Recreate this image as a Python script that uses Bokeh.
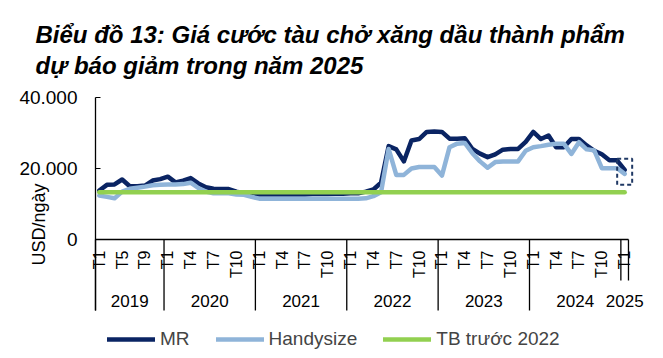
from math import pi
from bokeh.plotting import figure
from bokeh.models import Range1d, Label, Legend, LegendItem, FixedTicker, ColumnDataSource
from bokeh.core.properties import value
from bokeh.embed import file_html
from bokeh.resources import INLINE

# ---------------- data ----------------
years = ["2019", "2020", "2021", "2022", "2023", "2024", "2025"]
months_2019 = ["T1", "T2", "T4", "T5", "T6", "T8", "T9", "T10", "T12"]
months_full = ["T1", "T2", "T3", "T4", "T5", "T6", "T7", "T8", "T9", "T10", "T11", "T12"]
months_2025 = ["T1"]

mr = [
    13800, 15400, 15500, 16900, 15000, 15000, 15200, 16600, 17000,
    17700, 16100, 16600, 17300, 15800, 14700, 14300, 14200, 14200, 13500, 13000, 12800,
    12700, 12700, 12700, 12700, 12700, 12700, 12700, 12800, 12800, 12800, 12900, 12900,
    13000, 13000, 13500, 14100, 16000, 26300, 25400, 22000, 27900, 28300, 30300, 30400,
    30300, 28400, 28400, 28500, 25500, 24200, 23200, 24000, 25300, 25500, 25500, 27500,
    30300, 28300, 29300, 26000, 26000, 28300, 28300, 26500, 25000, 24000, 22300, 22300,
    19600,
]
handysize = [
    12400, 12000, 11600, 13500, 14300, 14600, 14900, 15300, 15400,
    15500, 15500, 15600, 16000, 14500, 13500, 13000, 13000, 13000, 12700, 12600, 12000,
    11500, 11500, 11500, 11500, 11500, 11500, 11500, 11500, 11500, 11500, 11500, 11500,
    11500, 11500, 11600, 12200, 13300, 25500, 18200, 18200, 20000, 20400, 20400, 20400,
    18000, 26000, 27000, 27200, 24300, 22000, 20200, 21800, 22000, 22000, 22000, 25000,
    26000, 26300, 26700, 27000, 27000, 24100, 27400, 25400, 25100, 20100, 20100, 20100,
    18500,
]
tb_truoc_2022 = 13300  # average before 2022

y_ticks = [0, 20000, 40000]
y_tick_labels = {0: "0", 20000: "20.000", 40000: "40.000"}

# ---------------- derived ----------------
month_labels = months_2019 + months_full * 5 + months_2025
counts = [len(months_2019)] + [len(months_full)] * 5 + [len(months_2025)]
n = len(month_labels)
xs = [i + 0.5 for i in range(n)]
tb = [tb_truoc_2022] * n

# ---------------- layout constants (page pixels) ----------------
W, H = 660, 356
AXIS_X = 95              # page x of category axis start
ZERO_Y = 239             # page y of value 0
PX_X = 7.614             # px per category
PX_Y = 142 / 40000       # px per unit

def fx(px):
    return (px - AXIS_X) / PX_X

def fy(py):
    return (ZERO_Y - py) / PX_Y

FONT = value("Liberation Sans")

p = figure(width=W, height=H, x_range=Range1d(fx(0), fx(W)), y_range=Range1d(fy(H), fy(0)),
           output_backend="svg", toolbar_location=None, x_axis_location=None,
           min_border=0, min_border_left=0, min_border_right=0, min_border_top=0,
           min_border_bottom=0)
p.grid.visible = False
p.outline_line_color = None
p.background_fill_color = "white"

# y axis (drawn at category-axis start)
ya = p.yaxis[0]
ya.fixed_location = 0
ya.ticker = FixedTicker(ticks=y_ticks)
ya.major_label_overrides = y_tick_labels
ya.bounds = (-20000, 40000)
ya.axis_line_color = "black"
ya.axis_line_width = 1.3
ya.major_tick_in = 5
ya.major_tick_out = 0
ya.major_tick_line_color = "black"
ya.minor_tick_line_color = None
ya.major_label_standoff = 18
ya.major_label_text_font = "Liberation Sans"
ya.major_label_text_font_size = "19px"
ya.major_label_text_color = "black"

# series
NAVY = "#0A2463"
LIGHT = "#8FB4D9"
GREEN = "#92D050"
r_mr = p.line(xs, mr, line_color=NAVY, line_width=4.5, line_join="round", line_cap="round")
r_h = p.line(xs, handysize, line_color=LIGHT, line_width=4.5, line_join="round", line_cap="round")
r_tb = p.line(xs, tb, line_color=GREEN, line_width=4.5, line_join="round", line_cap="round")

# dashed box around last point
p.rect(x=[xs[-1]], y=[(mr[-1] + handysize[-1]) / 2], width=15, height=26,
       width_units="screen", height_units="screen", fill_color=None,
       line_color="#1F3864", line_dash="4 3", line_width=2)

# category axis (drawn)
p.segment(x0=[0], y0=[0], x1=[n], y1=[0], line_color="black", line_width=1.3)
bounds = [0]
for c in counts:
    bounds.append(bounds[-1] + c)
seg_len = []
for k, b in enumerate(bounds):
    last_group = k >= len(bounds) - 2
    seg_len.append(41 if last_group and k > 0 else 71)
p.segment(x0=bounds, y0=[0] * len(bounds), x1=bounds, y1=[-L / PX_Y for L in seg_len],
          line_color="black", line_width=1.3)

tick_idx = [i for i in range(n) if i % 3 == 0]
msrc = ColumnDataSource(dict(x=[xs[i] for i in tick_idx], y=[0] * len(tick_idx),
                             t=[month_labels[i] for i in tick_idx]))
p.text(x="x", y="y", text="t", source=msrc, angle=pi / 2, text_align="right",
       text_baseline="middle", y_offset=11, text_font=FONT, text_font_size="16px",
       text_color="black")

centers = [(bounds[k] + bounds[k + 1]) / 2 for k in range(len(years))]
ysrc = ColumnDataSource(dict(x=centers, y=[0] * len(years), t=years))
p.text(x="x", y="y", text="t", source=ysrc, text_align="center", text_baseline="middle",
       y_offset=61, text_font=FONT, text_font_size="17px", text_color="black")

# titles and axis label
p.add_layout(Label(x=fx(35), y=fy(34), text="Biểu đồ 13: Giá cước tàu chở xăng dầu thành phẩm",
                   text_font="Liberation Sans", text_font_style="bold italic",
                   text_font_size="24px", text_baseline="alphabetic", text_color="black"))
p.add_layout(Label(x=fx(35), y=fy(65), text="dự báo giảm trong năm 2025",
                   text_font="Liberation Sans", text_font_style="bold italic",
                   text_font_size="24px", text_baseline="alphabetic", text_color="black"))
p.add_layout(Label(x=fx(38), y=fy(224), text="USD/ngày", angle=pi / 2,
                   text_font="Liberation Sans", text_font_size="18px",
                   text_align="center", text_baseline="middle", text_color="black"))

legend = Legend(items=[LegendItem(label="MR", renderers=[r_mr]),
                       LegendItem(label="Handysize", renderers=[r_h]),
                       LegendItem(label="TB trước 2022", renderers=[r_tb])],
                orientation="horizontal", location=(107, H - 340 - 10),
                label_text_font="Liberation Sans", label_text_font_size="19px",
                glyph_width=48, glyph_height=20, label_height=20, label_standoff=5,
                spacing=26, padding=0, margin=0, border_line_color=None,
                background_fill_alpha=0)
p.add_layout(legend)

open("out.html", "w").write(file_html(p, INLINE))
